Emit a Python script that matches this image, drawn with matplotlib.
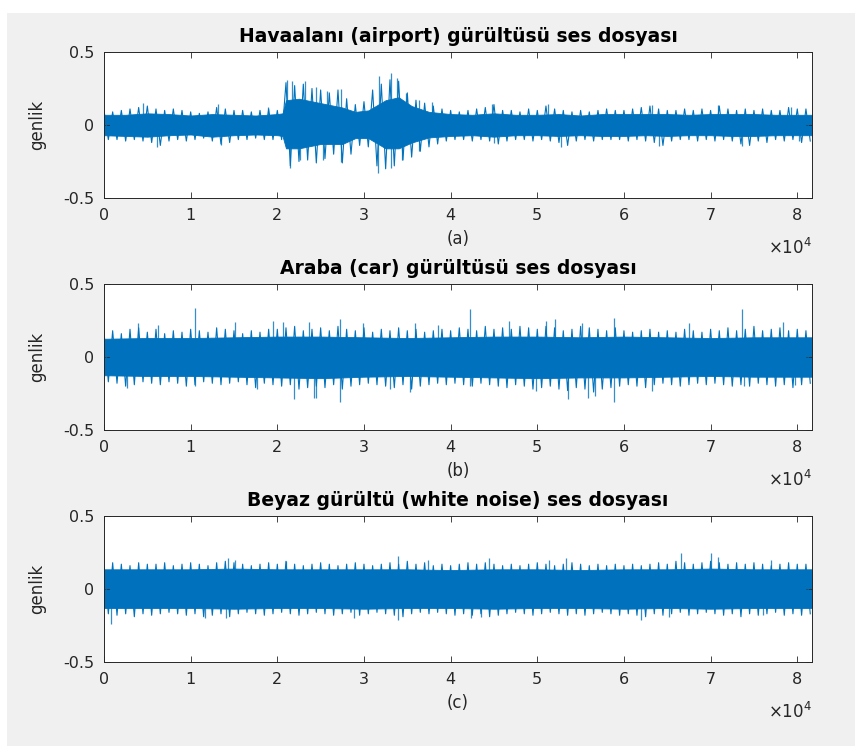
"""Three noise recordings (airport, car, white noise) drawn as sample envelopes."""

import matplotlib

matplotlib.use("Agg")

import matplotlib.pyplot as plt
import numpy as np
from matplotlib.patches import Rectangle

plt.rcParams["font.family"] = ["DejaVu Sans"]

N_SAMPLES = 81700
HAIR_STEP = 1000
LINE = "#0072BD"
INK = "#262626"

TITLES = [
    "Havaalanı (airport) gürültüsü ses dosyası",
    "Araba (car) gürültüsü ses dosyası",
    "Beyaz gürültü (white noise) ses dosyası",
]
PANEL_TAGS = ["(a)", "(b)", "(c)"]
X_TICKS = [0, 10000, 20000, 30000, 40000, 50000, 60000, 70000, 80000]
X_TICK_LABELS = ["0", "1", "2", "3", "4", "5", "6", "7", "8"]
Y_TICKS = [-0.5, 0, 0.5]
Y_TICK_LABELS = ["-0.5", "0", "0.5"]

# solid body of each signal: sample index, upper and lower edge
airport_x = [0, 2500, 5000, 7500, 10000, 12500, 15000, 17500, 20000, 20600,
             21000, 22500, 25000, 27500, 29000, 30500, 32500, 34000, 35500,
             37500, 40000, 42500, 45000, 47500, 50000, 52500, 55000, 57500,
             60000, 62500, 65000, 67500, 70000, 72500, 75000, 77500, 80000, 81700]
airport_hi = [0.07, 0.07, 0.08, 0.075, 0.065, 0.075, 0.07, 0.065, 0.075, 0.08,
              0.17, 0.18, 0.15, 0.12, 0.09, 0.1, 0.17, 0.19, 0.13,
              0.09, 0.075, 0.07, 0.08, 0.07, 0.07, 0.075, 0.065, 0.075,
              0.075, 0.075, 0.075, 0.07, 0.075, 0.075, 0.075, 0.07, 0.07, 0.07]
airport_lo = [-0.07, -0.075, -0.08, -0.07, -0.065, -0.08, -0.07, -0.065, -0.07, -0.075,
              -0.16, -0.16, -0.13, -0.13, -0.09, -0.09, -0.16, -0.16, -0.12,
              -0.085, -0.075, -0.07, -0.08, -0.07, -0.07, -0.075, -0.07, -0.075,
              -0.075, -0.07, -0.075, -0.07, -0.07, -0.075, -0.075, -0.07, -0.07, -0.07]
# ragged edge, one upper and one lower tip every HAIR_STEP samples
airport_tip_hi = [0.10, 0.09, 0.10, 0.11, 0.12, 0.13, 0.11, 0.10, 0.11, 0.10,
                  0.09, 0.08, 0.09, 0.12, 0.11, 0.10, 0.10, 0.09, 0.10, 0.11,
                  0.10, 0.29, 0.27, 0.28, 0.25, 0.24, 0.22, 0.24, 0.18, 0.14,
                  0.16, 0.24, 0.28, 0.31, 0.30, 0.22, 0.17, 0.15, 0.13, 0.11,
                  0.10, 0.09, 0.10, 0.11, 0.12, 0.14, 0.10, 0.10, 0.09, 0.11,
                  0.10, 0.13, 0.11, 0.10, 0.09, 0.10, 0.09, 0.10, 0.11, 0.10,
                  0.10, 0.11, 0.12, 0.13, 0.11, 0.10, 0.10, 0.11, 0.10, 0.11,
                  0.10, 0.13, 0.11, 0.10, 0.11, 0.10, 0.11, 0.10, 0.10, 0.12,
                  0.11, 0.11]
airport_tip_lo = [-0.10, -0.10, -0.11, -0.10, -0.11, -0.12, -0.14, -0.11, -0.10, -0.11,
                  -0.10, -0.09, -0.11, -0.13, -0.12, -0.10, -0.10, -0.09, -0.10, -0.10,
                  -0.10, -0.28, -0.25, -0.24, -0.26, -0.23, -0.20, -0.26, -0.20, -0.14,
                  -0.15, -0.28, -0.30, -0.28, -0.24, -0.22, -0.18, -0.15, -0.13, -0.11,
                  -0.10, -0.10, -0.11, -0.10, -0.11, -0.13, -0.11, -0.10, -0.10, -0.11,
                  -0.10, -0.11, -0.12, -0.14, -0.11, -0.10, -0.11, -0.10, -0.10, -0.10,
                  -0.11, -0.10, -0.11, -0.12, -0.14, -0.11, -0.10, -0.10, -0.11, -0.10,
                  -0.11, -0.10, -0.11, -0.13, -0.14, -0.11, -0.12, -0.10, -0.11, -0.10,
                  -0.12, -0.11]
airport_up_x = [4500, 13200, 18900, 21100, 21700, 23200, 24500, 25700, 27400,
                31700, 33100, 33800, 34800, 36300, 37800, 44800, 51200, 63200,
                70900, 79300]
airport_up_y = [0.148, 0.144, 0.125, 0.31, 0.30, 0.30, 0.26, 0.23, 0.25,
                0.335, 0.354, 0.32, 0.22, 0.17, 0.16, 0.144, 0.144, 0.14,
                0.14, 0.12]
airport_dn_x = [6100, 13500, 21500, 22600, 25300, 27400, 31600, 33100, 34400,
                36300, 45000, 52700, 64000, 73600, 80200]
airport_dn_y = [-0.153, -0.137, -0.297, -0.24, -0.24, -0.25, -0.33, -0.297, -0.24,
                -0.18, -0.125, -0.148, -0.145, -0.145, -0.11]

car_x = [0, 5000, 10000, 15000, 20000, 25000, 30000, 35000, 40000, 45000,
         50000, 55000, 60000, 65000, 70000, 75000, 81700]
car_hi = [0.125, 0.13, 0.13, 0.135, 0.14, 0.14, 0.135, 0.13, 0.135, 0.14,
          0.14, 0.135, 0.14, 0.135, 0.13, 0.135, 0.135]
car_lo = [-0.125, -0.13, -0.13, -0.135, -0.14, -0.145, -0.135, -0.13, -0.135, -0.14,
          -0.145, -0.14, -0.14, -0.135, -0.13, -0.135, -0.135]
car_tip_hi = [0.17, 0.18, 0.16, 0.19, 0.20, 0.17, 0.19, 0.16, 0.18, 0.17,
              0.19, 0.18, 0.17, 0.20, 0.19, 0.18, 0.16, 0.18, 0.17, 0.19,
              0.19, 0.20, 0.21, 0.18, 0.19, 0.20, 0.18, 0.21, 0.19, 0.18,
              0.20, 0.17, 0.19, 0.18, 0.20, 0.18, 0.19, 0.17, 0.18, 0.19,
              0.18, 0.20, 0.19, 0.18, 0.21, 0.19, 0.20, 0.19, 0.21, 0.20,
              0.19, 0.21, 0.20, 0.18, 0.19, 0.21, 0.20, 0.19, 0.18, 0.20,
              0.18, 0.17, 0.18, 0.19, 0.17, 0.18, 0.17, 0.19, 0.18, 0.17,
              0.19, 0.18, 0.20, 0.18, 0.19, 0.21, 0.18, 0.19, 0.20, 0.18,
              0.19, 0.18]
car_tip_lo = [-0.17, -0.18, -0.20, -0.19, -0.17, -0.18, -0.19, -0.17, -0.18, -0.20,
              -0.19, -0.17, -0.18, -0.19, -0.18, -0.17, -0.19, -0.21, -0.18, -0.19,
              -0.20, -0.19, -0.22, -0.21, -0.20, -0.21, -0.19, -0.22, -0.20, -0.19,
              -0.18, -0.19, -0.20, -0.21, -0.19, -0.22, -0.20, -0.19, -0.18, -0.19,
              -0.18, -0.19, -0.20, -0.18, -0.19, -0.20, -0.21, -0.19, -0.20, -0.22,
              -0.21, -0.20, -0.22, -0.23, -0.21, -0.22, -0.24, -0.22, -0.21, -0.20,
              -0.19, -0.20, -0.21, -0.19, -0.18, -0.19, -0.20, -0.19, -0.18, -0.19,
              -0.18, -0.19, -0.20, -0.19, -0.20, -0.18, -0.19, -0.20, -0.19, -0.21,
              -0.19, -0.18]
car_up_x = [3900, 6200, 10500, 15100, 19500, 20600, 23600, 27200, 29900, 35900,
            38500, 42200, 46700, 51000, 52000, 55200, 58900, 67500, 73600, 78300]
car_up_y = [0.23, 0.22, 0.333, 0.24, 0.25, 0.24, 0.24, 0.26, 0.23, 0.23,
            0.22, 0.326, 0.25, 0.25, 0.26, 0.23, 0.265, 0.23, 0.326, 0.24]
car_dn_x = [2700, 10500, 17700, 21900, 24200, 24500, 27200, 33000, 35300, 42200,
            49900, 53500, 55800, 56700, 58900, 63200, 73800, 79700]
car_dn_y = [-0.21, -0.2, -0.22, -0.29, -0.28, -0.28, -0.31, -0.22, -0.24, -0.2,
            -0.23, -0.29, -0.28, -0.27, -0.305, -0.23, -0.2, -0.19]

white_x = [0, 5000, 10000, 15000, 20000, 25000, 30000, 35000, 40000, 45000,
           50000, 55000, 60000, 65000, 70000, 75000, 81700]
white_hi = [0.135, 0.135, 0.135, 0.14, 0.135, 0.135, 0.135, 0.135, 0.13, 0.135,
            0.135, 0.13, 0.135, 0.135, 0.14, 0.135, 0.135]
white_lo = [-0.13, -0.13, -0.13, -0.135, -0.13, -0.13, -0.135, -0.13, -0.13, -0.135,
            -0.13, -0.13, -0.135, -0.13, -0.135, -0.13, -0.13]
white_tip_hi = [0.17, 0.18, 0.17, 0.16, 0.18, 0.17, 0.17, 0.18, 0.16, 0.17,
                0.18, 0.17, 0.16, 0.18, 0.19, 0.18, 0.17, 0.16, 0.17, 0.18,
                0.17, 0.19, 0.17, 0.16, 0.17, 0.18, 0.17, 0.16, 0.17, 0.18,
                0.17, 0.16, 0.17, 0.18, 0.17, 0.19, 0.17, 0.18, 0.16, 0.17,
                0.16, 0.17, 0.18, 0.17, 0.18, 0.17, 0.16, 0.17, 0.16, 0.17,
                0.18, 0.17, 0.16, 0.17, 0.18, 0.17, 0.16, 0.17, 0.16, 0.17,
                0.16, 0.17, 0.16, 0.17, 0.18, 0.17, 0.19, 0.18, 0.17, 0.18,
                0.19, 0.18, 0.17, 0.18, 0.17, 0.18, 0.17, 0.16, 0.17, 0.18,
                0.17, 0.17]
white_tip_lo = [-0.17, -0.18, -0.17, -0.19, -0.17, -0.18, -0.17, -0.16, -0.17, -0.18,
                -0.17, -0.19, -0.18, -0.17, -0.19, -0.17, -0.16, -0.17, -0.18, -0.17,
                -0.16, -0.17, -0.18, -0.17, -0.16, -0.17, -0.18, -0.17, -0.16, -0.18,
                -0.17, -0.16, -0.17, -0.18, -0.19, -0.17, -0.16, -0.17, -0.16, -0.17,
                -0.18, -0.17, -0.18, -0.17, -0.19, -0.18, -0.17, -0.16, -0.17, -0.18,
                -0.17, -0.16, -0.17, -0.18, -0.17, -0.18, -0.17, -0.16, -0.17, -0.18,
                -0.17, -0.18, -0.19, -0.17, -0.18, -0.17, -0.16, -0.18, -0.17, -0.16,
                -0.17, -0.18, -0.17, -0.19, -0.17, -0.18, -0.17, -0.16, -0.18, -0.17,
                -0.18, -0.17]
white_up_x = [14300, 15100, 21000, 33900, 37400, 44400, 51300, 53300, 66600,
              70000, 70800, 77000]
white_up_y = [0.21, 0.2, 0.19, 0.225, 0.2, 0.21, 0.2, 0.21, 0.25,
              0.245, 0.22, 0.2]
white_dn_x = [800, 11700, 14100, 28900, 33900, 42400, 43500, 62000, 65200, 76000]
white_dn_y = [-0.24, -0.2, -0.2, -0.2, -0.21, -0.2, -0.19, -0.21, -0.19, -0.18]

SIGNALS = [
    (airport_x, airport_hi, airport_lo, airport_tip_hi, airport_tip_lo,
     airport_up_x, airport_up_y, airport_dn_x, airport_dn_y),
    (car_x, car_hi, car_lo, car_tip_hi, car_tip_lo,
     car_up_x, car_up_y, car_dn_x, car_dn_y),
    (white_x, white_hi, white_lo, white_tip_hi, white_tip_lo,
     white_up_x, white_up_y, white_dn_x, white_dn_y),
]

fig = plt.figure(figsize=(8.59, 7.46), dpi=100, facecolor="white")
fig.add_artist(Rectangle((7 / 859, 0), 848 / 859, 733 / 746, transform=fig.transFigure,
                         facecolor="#f0f0f0", edgecolor="none", zorder=-10))

bottoms = [1 - 198 / 746, 1 - 430 / 746, 1 - 662 / 746]
for k, (sx, hi, lo, tip_hi, tip_lo, upx, upy, dnx, dny) in enumerate(SIGNALS):
    ax = fig.add_axes([104 / 859, bottoms[k], 708 / 859, 146 / 746])
    ax.fill_between(sx, lo, hi, color=LINE, lw=0.6, edgecolor=LINE)
    # zig-zag between the upper and lower tips gives the ragged outline
    tip_x = np.arange(len(tip_hi)) * HAIR_STEP
    zx = np.column_stack([tip_x, tip_x + HAIR_STEP / 2]).ravel()
    zy = np.column_stack([tip_hi, tip_lo]).ravel()
    keep = zx <= N_SAMPLES
    ax.plot(zx[keep], zy[keep], color=LINE, lw=0.8)
    ax.vlines(upx, 0, upy, color=LINE, lw=0.9, alpha=0.8)
    ax.vlines(dnx, dny, 0, color=LINE, lw=0.9, alpha=0.8)
    ax.set_xlim(0, N_SAMPLES)
    ax.set_ylim(-0.5, 0.5)
    ax.set_xticks(X_TICKS, X_TICK_LABELS)
    ax.set_yticks(Y_TICKS, Y_TICK_LABELS)
    ax.tick_params(direction="in", top=True, right=True, length=4, width=0.6,
                   labelsize=11.5, colors=INK, pad=7)
    for side in ax.spines.values():
        side.set_color(INK)
        side.set_linewidth(0.7)
    ax.set_title(TITLES[k], fontsize=13.5, fontweight="bold", color="black", pad=7)
    ax.set_ylabel("genlik", fontsize=12, color=INK, labelpad=12)
    ax.set_xlabel(PANEL_TAGS[k], fontsize=12, color=INK, labelpad=5)
    ax.text(1.0, -0.34, r"$\times\mathregular{10^4}$", transform=ax.transAxes, ha="right",
            va="center", fontsize=12, color=INK)

fig.savefig("out.png", dpi=100, facecolor=fig.get_facecolor())
